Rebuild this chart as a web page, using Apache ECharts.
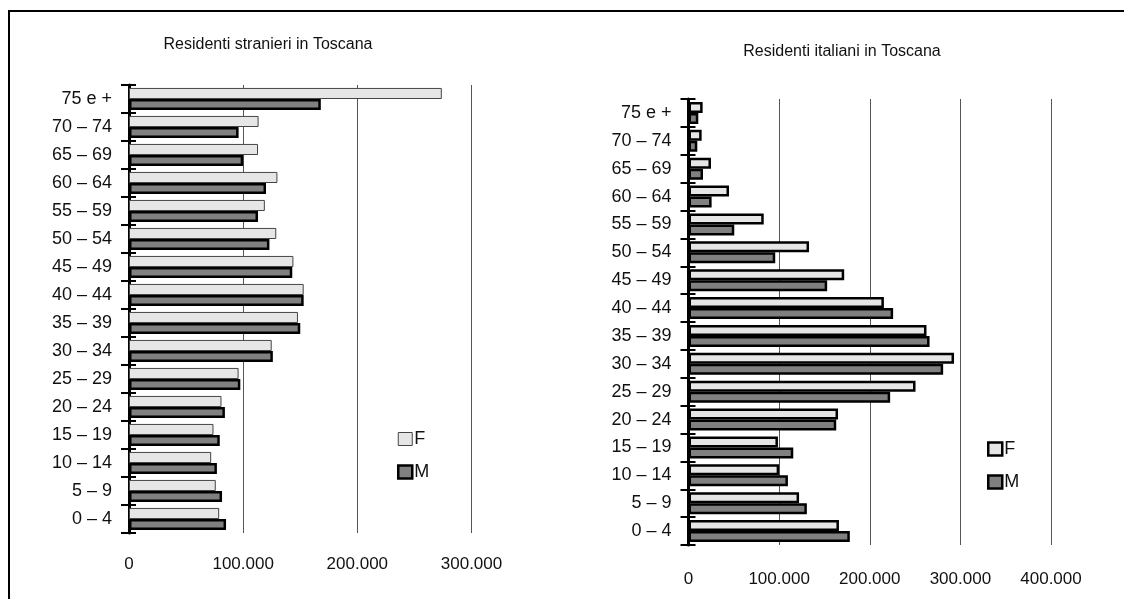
<!DOCTYPE html>
<html>
<head>
<meta charset="utf-8">
<script src="https://cdn.jsdelivr.net/npm/echarts@6/dist/echarts.min.js"></script>
<style>
html,body{margin:0;padding:0;background:#fff;}
#c{width:1124px;height:599px;}
</style>
</head>
<body>
<div id="c"></div>
<script>
var categories = ['0 – 4','5 – 9','10 – 14','15 – 19','20 – 24','25 – 29','30 – 34','35 – 39','40 – 44','45 – 49','50 – 54','55 – 59','60 – 64','65 – 69','70 – 74','75 e +'];
var stranieriF = [79000, 76000, 72000, 74000, 81000, 96000, 125000, 148000, 153000, 144000, 129000, 119000, 130000, 113000, 113500, 274000];
var stranieriM = [85000, 81500, 77000, 79500, 84000, 97500, 126000, 150000, 153000, 143000, 123000, 113000, 120000, 100000, 96000, 168000];
var italianiF = [166000, 122000, 100000, 98700, 165000, 250500, 293000, 262600, 215600, 171800, 133000, 83000, 44700, 24800, 14500, 15600];
var italianiM = [178000, 130600, 109700, 115600, 163000, 222500, 281000, 266000, 225800, 153000, 95700, 50500, 25500, 16000, 9700, 10800];
var titleLeft = 'Residenti stranieri in Toscana';
var titleRight = 'Residenti italiani in Toscana';

var FONT = 'Liberation Sans, Arial, sans-serif';
var fillF = '#e6e6e6', fillM = '#808080';

function fmt(v){
  if (v === 0) return '0';
  return String(v).replace(/\B(?=(\d{3})+(?!\d))/g, '.');
}

function xAxis(grid, max, margin){
  return {
    type:'value', gridIndex:grid, min:0, max:max, interval:100000,
    axisLine:{show:false}, axisTick:{show:false},
    splitLine:{show:true, lineStyle:{color:'#555', width:1}},
    axisLabel:{formatter:fmt, color:'#111', fontFamily:FONT, fontSize:17, margin:margin}
  };
}
function yMain(grid){
  return {
    type:'category', gridIndex:grid, data:categories,
    axisLine:{show:true, lineStyle:{color:'#000', width:3}},
    axisTick:{show:true, length:8, inside:false, lineStyle:{color:'#000', width:2}},
    axisLabel:{color:'#111', fontFamily:FONT, fontSize:18, margin:17},
    splitLine:{show:false}
  };
}
function yInner(grid){
  return {
    type:'category', gridIndex:grid, data:categories, position:'left',
    axisLine:{show:false},
    axisTick:{show:true, length:7, inside:true, lineStyle:{color:'#000', width:2}},
    axisLabel:{show:false}, splitLine:{show:false}
  };
}

var option = {
  animation:false,
  backgroundColor:'#fff',
  graphic:[
    {type:'rect', shape:{x:9, y:11, width:1200, height:700}, style:{fill:'none', stroke:'#000', lineWidth:2}},
    {type:'text', x:268, y:45, style:{text:titleLeft, font:'16px Liberation Sans, Arial, sans-serif', fill:'#111', align:'center', verticalAlign:'middle'}},
    {type:'text', x:842, y:52, style:{text:titleRight, font:'16px Liberation Sans, Arial, sans-serif', fill:'#111', align:'center', verticalAlign:'middle'}}
  ],
  grid:[
    {left:129, top:85, width:342.5, height:448},
    {left:688.5, top:99, width:362.5, height:446}
  ],
  legend:[
    {orient:'vertical', left:397, top:430, padding:0, itemWidth:14, itemHeight:13, itemGap:15, icon:'rect',
     textStyle:{color:'#111', fontFamily:FONT, fontSize:18, padding:[0,0,0,-3]}, selectedMode:false,
     data:[{name:'F', itemStyle:{color:fillF, borderColor:'#444', borderWidth:1}},
           {name:'M', itemStyle:{color:fillM, borderColor:'#000', borderWidth:2.5}}]},
    {orient:'vertical', left:987, top:440, padding:0, itemWidth:14, itemHeight:13, itemGap:15, icon:'rect',
     textStyle:{color:'#111', fontFamily:FONT, fontSize:18, padding:[0,0,0,-3]}, selectedMode:false,
     data:[{name:'F', itemStyle:{color:fillF, borderColor:'#000', borderWidth:2.5}},
           {name:'M', itemStyle:{color:fillM, borderColor:'#000', borderWidth:2.5}}]}
  ],
  xAxis:[xAxis(0, 300000, 23), xAxis(1, 400000, 26)],
  yAxis:[yMain(0), yInner(0), yMain(1), yInner(1)],
  series:[
    {name:'F', type:'bar', xAxisIndex:0, yAxisIndex:0, data:stranieriF, barGap:'0%', barCategoryGap:'21%',
     itemStyle:{color:fillF, borderColor:'#444', borderWidth:1}},
    {name:'M', type:'bar', xAxisIndex:0, yAxisIndex:0, data:stranieriM, barGap:'0%', barCategoryGap:'21%',
     itemStyle:{color:fillM, borderColor:'#000', borderWidth:2.5}},
    {name:'F', type:'bar', xAxisIndex:1, yAxisIndex:2, data:italianiF, barGap:'0%', barCategoryGap:'21%',
     itemStyle:{color:fillF, borderColor:'#000', borderWidth:2.5}},
    {name:'M', type:'bar', xAxisIndex:1, yAxisIndex:2, data:italianiM, barGap:'0%', barCategoryGap:'21%',
     itemStyle:{color:fillM, borderColor:'#000', borderWidth:2.5}}
  ]
};
var chart = echarts.init(document.getElementById('c'));
chart.setOption(option);
</script>
</body>
</html>
